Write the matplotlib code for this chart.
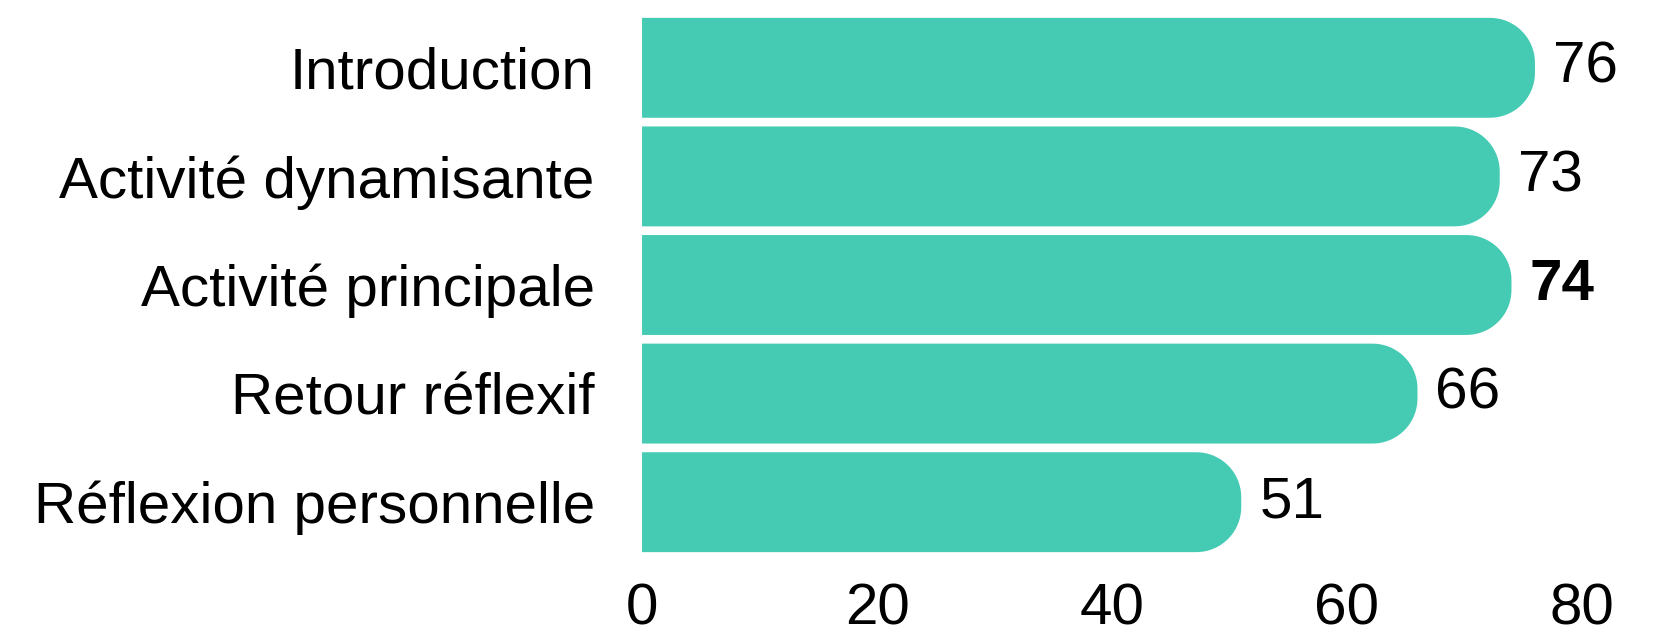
import numpy as np
import matplotlib.pyplot as plt
from matplotlib.patches import PathPatch
from matplotlib.path import Path

# data
categories = ["Introduction", "Activité dynamisante", "Activité principale",
              "Retour réflexif", "Réflexion personnelle"]
values = [76, 73, 74, 66, 51]
bold_label = [False, False, True, False, False]
xticks = [0, 20, 40, 60, 80]

bar_color = "#45cbb3"
bar_h = 0.92
radius_px = 45

plt.rcParams['font.family'] = ['Liberation Sans', 'DejaVu Sans']

fig = plt.figure(figsize=(16.56, 6.37), dpi=100)
ax = fig.add_axes([0.3877, 0.1264, 0.9553 - 0.3877, 0.9788 - 0.1264])
ax.set_xlim(0, 80)
ax.set_ylim(len(categories) - 0.5, -0.5)

# pixels per data unit, so the rounded ends come out circular
bbox = ax.get_window_extent()
px_x = bbox.width / 80.0
px_y = bbox.height / len(categories)
r_x = radius_px / px_x
r_y = radius_px / px_y

#bar with square left end and rounded right end
def pill_bar(v, yc):
    y0 = yc - bar_h / 2
    y1 = yc + bar_h / 2
    t1 = np.linspace(-np.pi / 2, 0, 20)
    t2 = np.linspace(0, np.pi / 2, 20)
    xs = [0] + list(v - r_x + r_x * np.cos(t1)) + list(v - r_x + r_x * np.cos(t2)) + [0]
    ys = [y0] + list(y0 + r_y + r_y * np.sin(t1)) + list(y1 - r_y + r_y * np.sin(t2)) + [y1]
    verts = list(zip(xs, ys)) + [(0, y0)]
    codes = [Path.MOVETO] + [Path.LINETO] * (len(verts) - 2) + [Path.CLOSEPOLY]
    return PathPatch(Path(verts, codes), fc=bar_color, ec="none")

for i, v in enumerate(values):
    ax.add_patch(pill_bar(v, i))
    ax.text(v + 18 / px_x, i, str(v), va="center", ha="left", fontsize=42,
            fontweight="bold" if bold_label[i] else "normal")

ax.set_yticks(range(len(categories)))
ax.set_yticklabels(categories, fontsize=42)
ax.set_xticks(xticks)
ax.set_xticklabels([str(t) for t in xticks], fontsize=42)
ax.tick_params(axis="y", length=0, pad=34)
ax.tick_params(axis="x", length=0, pad=19)
for s in ax.spines.values():
    s.set_visible(False)

fig.savefig("out.png", dpi=100)
